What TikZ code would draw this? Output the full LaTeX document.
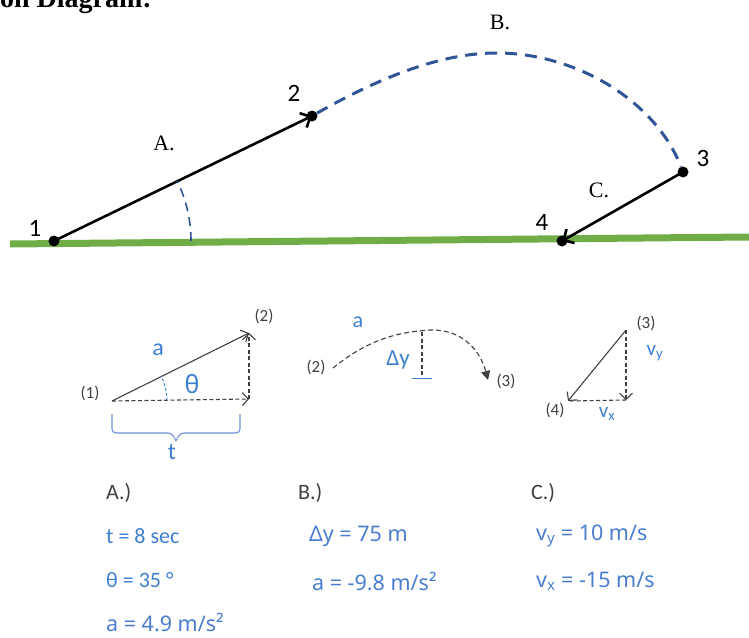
\documentclass[tikz,border=0pt]{standalone}
\usepackage{fontspec}
\setmainfont{Liberation Serif}
\newfontfamily\calib{Carlito}
\newfontfamily\robo{Noto Sans}
\usetikzlibrary{arrows.meta}
\definecolor{groundgreen}{HTML}{70AD47}
\definecolor{pathblue}{HTML}{2F5597}
\definecolor{txtblue}{HTML}{3D7FD0}
\definecolor{txtblue2}{HTML}{4A7DCF}
\definecolor{darkgray}{HTML}{404040}
\definecolor{bracketblue}{HTML}{6E8FD0}
\tikzset{
  dot/.style={circle,fill=black,inner sep=0pt,minimum size=11pt},
  numlabel/.style={font=\calib\fontsize{25}{25}\selectfont,inner sep=0pt},
  partlabel/.style={font=\fontsize{22}{22}\selectfont,inner sep=0pt},
  mainarrow/.style={line width=2.6pt,-{Straight Barb[length=8pt,width=16pt,line width=2.6pt]}},
  smallarrow/.style={line width=1.1pt,darkgray,-{Straight Barb[length=6pt,width=13pt,line width=1.1pt]}},
  smalldash/.style={smallarrow,dash pattern=on 4pt off 2.5pt},
  smalllabel/.style={font=\calib\fontsize{17}{17}\selectfont,text=darkgray,inner sep=0pt},
  bluelabel/.style={font=\calib\fontsize{24}{24}\selectfont,text=txtblue,inner sep=0pt},
  rowtext/.style={font=\robo\fontsize{21.5}{21.5}\selectfont,text=txtblue2,inner sep=0pt,anchor=west},
  rowtextc/.style={font=\calib\fontsize{22}{22}\selectfont,text=txtblue,inner sep=0pt,anchor=west},
  headtext/.style={font=\calib\fontsize{22}{22}\selectfont,text=darkgray,inner sep=0pt,anchor=west},
}
\begin{document}
\begin{tikzpicture}[x=1pt,y=-1pt]
\useasboundingbox (0,0) rectangle (749,637);
\clip (0,0) rectangle (749,637);
% heading (cut off at the top, as in the source)
\node[anchor=base east,inner sep=0pt,font=\bfseries\fontsize{28}{28}\selectfont] (head) at (152,8) {Motion Diagram:};
% ground
\coordinate (g1) at (10,244);
\coordinate (g2) at (749,237);
\draw[groundgreen,line width=7pt] (g1) -- (g2);
% points
\node[dot] (p1) at (54,241) {};
\node[dot] (p2) at (312,116) {};
\node[dot] (p3) at (683,172) {};
\node[dot] (p4) at (562,241) {};
\node[numlabel] (l1) at (35,228) {1};
\node[numlabel] (l2) at (294,93) {2};
\node[numlabel] (l3) at (703,158) {3};
\node[numlabel] (l4) at (542,222) {4};
\node[partlabel] (lA) at (164,143) {A.};
\node[partlabel] (lB) at (500,22) {B.};
\node[partlabel] (lC) at (599,190) {C.};
% arrows
\draw[mainarrow] (p1.center) -- (p2.center);
\draw[mainarrow] (p3.center) -- (p4.center);
% trajectory
\draw[pathblue,line width=3pt,dash pattern=on 12pt off 8pt]
  (p2) .. controls (400,66) and (455,53) .. (497,53)
       .. controls (575,53) and (655,100) .. (p3);
% angle arc
\coordinate (arcstart) at (191,241);
\draw[pathblue,line width=1.6pt,dash pattern=on 9pt off 6pt] (arcstart) arc[start angle=0,end angle=26,radius=137pt];
% ---- diagram A ----
\coordinate (aO) at (112,401);
\coordinate (aT) at (249,333);
\coordinate (aH) at (249,399);
\draw[smallarrow] (aO) -- (aT);
\draw[smalldash] (aO) -- (aH);
\draw[smalldash] (aH) -- (aT);
\node[smalllabel] (a1) at (90,393) {(1)};
\node[smalllabel] (a2) at (264,316) {(2)};
\node[bluelabel] (aa) at (158,350) {a};
\node[font=\robo\fontsize{25}{25}\selectfont,text=txtblue,inner sep=0pt] (ath) at (192,384) {θ};
\coordinate (athstart) at (167,401);
\draw[txtblue,line width=0.9pt,dash pattern=on 3pt off 2pt] (athstart) arc[start angle=0,end angle=27,radius=55pt];
\draw[bracketblue,line width=1.1pt,rounded corners=4pt] (112,414) -- (112,433) -- (172,433) -- (176,441);
\draw[bracketblue,line width=1.1pt,rounded corners=4pt] (176,441) -- (180,433) -- (240,433) -- (240,414);
\node[bluelabel] (at) at (172,452) {t};
% ---- diagram B ----
\coordinate (bS) at (333,368);
\coordinate (bP) at (430,330);
\coordinate (bE) at (488,380);
\draw[darkgray,line width=1.1pt,dash pattern=on 5pt off 3pt,-{Triangle[length=9pt,width=9pt]}]
  (bS) .. controls (370,338) and (400,332) .. (bP) .. controls (462,329) and (480,350) .. (bE);
\coordinate (bV1) at (422,332);
\coordinate (bV2) at (422,378);
\draw[darkgray,line width=1.1pt,dash pattern=on 4pt off 2.5pt] (bV1) -- (bV2);
\draw[txtblue,line width=1pt] (412,378) -- (432,378);
\node[smalllabel] (b2) at (316,367) {(2)};
\node[smalllabel] (b3) at (506,381) {(3)};
\node[bluelabel,font=\calib\fontsize{22}{22}\selectfont] (ba) at (358,322) {a};
\node[bluelabel,font=\calib\fontsize{23}{23}\selectfont] (bdy) at (398,360) {Δy};
% ---- diagram C ----
\coordinate (c3) at (626,330);
\coordinate (c4) at (568,401);
\coordinate (cF) at (626,400);
\draw[smallarrow] (c3) -- (c4);
\draw[smalldash] (c3) -- (cF);
\draw[darkgray,line width=1.1pt,dash pattern=on 4pt off 2.5pt] (cF) -- (c4);
\node[smalllabel] (c3l) at (646,323) {(3)};
\node[smalllabel] (c4l) at (555,410) {(4)};
\node[font=\calib\fontsize{21}{21}\selectfont,text=txtblue,inner sep=0pt] (cvy) at (655,353) {v\textsubscript{y}};
\node[font=\calib\fontsize{21}{21}\selectfont,text=txtblue,inner sep=0pt] (cvx) at (607,414) {v\textsubscript{x}};
% ---- text rows ----
\node[headtext] (hA) at (106,493) {A.)};
\node[headtext] (hB) at (298,493) {B.)};
\node[headtext] (hC) at (531,493) {C.)};
\node[rowtextc] (r1) at (106,536) {t = 8 sec};
\node[rowtextc] (r2) at (106,580) {θ = 35 °};
\node[rowtext] (r3) at (106,622) {a = 4.9 m/s²};
\node[rowtext] (r4) at (309,536) {Δy = 75 m};
\node[rowtext] (r5) at (312,581) {a = -9.8 m/s²};
\node[rowtext] (r6) at (536,536) {v\textsubscript{y} = 10 m/s};
\node[rowtext] (r7) at (536,581) {v\textsubscript{x} = -15 m/s};
\end{tikzpicture}
\end{document}
